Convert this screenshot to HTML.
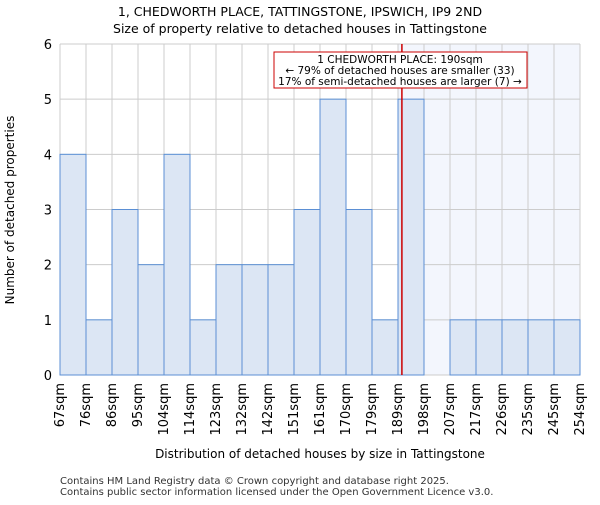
<!DOCTYPE html>
<html><head><meta charset="utf-8"><style>body{margin:0;background:#fff}svg{font-family:"DejaVu Sans","Liberation Sans",sans-serif}</style></head>
<body>
<svg id="c" width="600" height="500"></svg>
<script>
const categories=["67sqm","76sqm","86sqm","95sqm","104sqm","114sqm","123sqm","132sqm","142sqm","151sqm","161sqm","170sqm","179sqm","189sqm","198sqm","207sqm","217sqm","226sqm","235sqm","245sqm","254sqm"];
const counts=[4,1,3,2,4,1,2,2,2,3,5,3,1,5,0,1,1,1,1,1];
const yTicks=[0,1,2,3,4,5,6];
const markerBin=13.15;
const shadeFromBin=13;
const NS="http://www.w3.org/2000/svg";
const svg=document.getElementById('c');
const L=60,R=580,T=44,B=375,n=counts.length,bw=(R-L)/n;
const x=i=>L+i*bw, y=v=>B-(B-T)*v/6;
function add(tag,a,p){const e=document.createElementNS(NS,tag);for(const k in a)e.setAttribute(k,a[k]);(p||svg).appendChild(e);return e;}
let e=add('rect',{x:x(shadeFromBin),y:T,width:R-x(shadeFromBin),height:B-T,fill:'#f3f6fd'});


for(let i=0;i<=n;i++){e=add('line',{x1:x(i),x2:x(i),y1:T,y2:B,stroke:'#ccc'});}
yTicks.forEach(t=>{e=add('line',{x1:L,x2:R,y1:y(t),y2:y(t),stroke:'#ccc'});
e=add('text',{x:L-8,y:y(t)+5,'text-anchor':'end','font-size':13});e.textContent=t;});
counts.forEach((v,i)=>{if(!v)return;e=add('rect',{x:x(i),y:y(v),width:bw,height:B-y(v),fill:'#dce6f4',stroke:'#5b8fd4','stroke-width':1});});
categories.forEach((c,i)=>{e=add('text',{transform:`translate(${x(i)+4},${B+8}) rotate(-90)`,'text-anchor':'end','font-size':13});e.textContent=c;});
e=add('line',{x1:x(markerBin),x2:x(markerBin),y1:T,y2:B,stroke:'#cc0000','stroke-width':1.5});
const g=add('g',{});
add('rect',{x:274,y:52,width:253,height:36,fill:'#fff',stroke:'#cc0000'},g);
["1 CHEDWORTH PLACE: 190sqm","← 79% of detached houses are smaller (33)","17% of semi-detached houses are larger (7) →"].forEach((s,i)=>{const t=add('text',{x:400,y:63+i*11,'text-anchor':'middle','font-size':10.5},g);t.textContent=s;});
e=add('text',{x:300,y:16,'text-anchor':'middle','font-size':12.5});e.textContent="1, CHEDWORTH PLACE, TATTINGSTONE, IPSWICH, IP9 2ND";
e=add('text',{x:300,y:33,'text-anchor':'middle','font-size':12.5});e.textContent="Size of property relative to detached houses in Tattingstone";
e=add('text',{transform:'translate(14,210) rotate(-90)','text-anchor':'middle','font-size':12});e.textContent="Number of detached properties";
e=add('text',{x:320,y:458,'text-anchor':'middle','font-size':12});e.textContent="Distribution of detached houses by size in Tattingstone";
e=add('text',{x:60,y:484,'font-size':10,fill:'#333'});e.textContent="Contains HM Land Registry data © Crown copyright and database right 2025.";
e=add('text',{x:60,y:495,'font-size':10,fill:'#333'});e.textContent="Contains public sector information licensed under the Open Government Licence v3.0.";
</script>
</body></html>
